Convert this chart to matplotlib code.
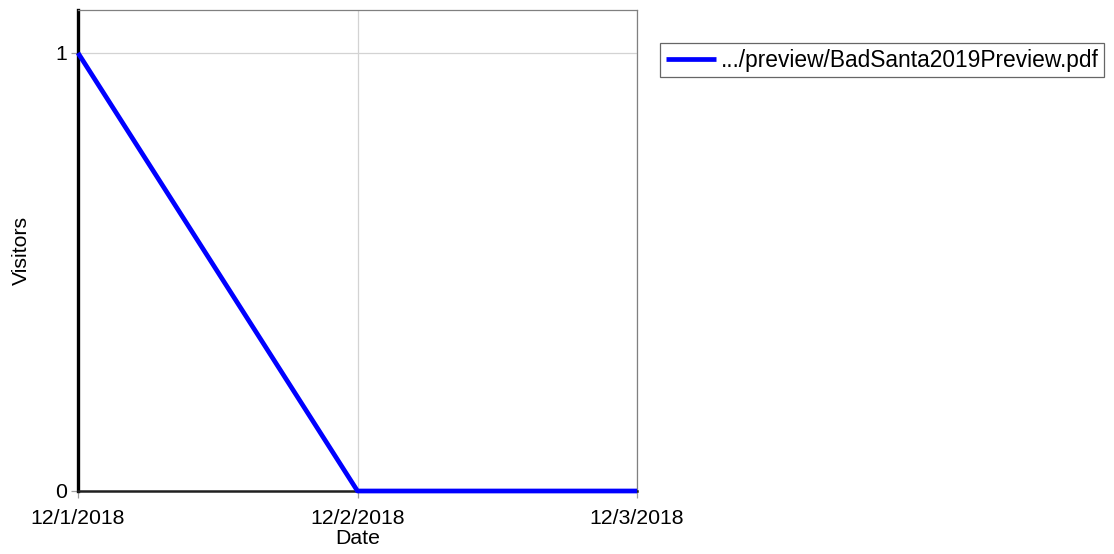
import matplotlib
matplotlib.use("Agg")
import matplotlib.pyplot as plt
import matplotlib.dates as mdates
import pandas as pd

plt.rcParams['font.family'] = ['Liberation Sans', 'DejaVu Sans']

# data
dates = ["2018-12-01", "2018-12-02", "2018-12-03"]
visitors = [1, 0, 0]
series_label = ".../preview/BadSanta2019Preview.pdf"
x_ticks = ["2018-12-01", "2018-12-02", "2018-12-03"]
y_ticks = [0, 1]

x = pd.to_datetime(dates)

fig = plt.figure(figsize=(11.14, 5.54), dpi=100)
ax = fig.add_axes([78 / 1114, 1 - 491 / 554, (637 - 78) / 1114, (491 - 10) / 554])

ax.plot(x, visitors, color='#0000ff', linewidth=3.4, label=series_label,
        solid_capstyle='butt', zorder=3, clip_on=False)

ax.set_xlim(pd.to_datetime(x_ticks[0]), pd.to_datetime(x_ticks[-1]))
ax.set_ylim(0, 1.098)
ax.set_xticks(pd.to_datetime(x_ticks))
ax.xaxis.set_major_formatter(
    plt.FuncFormatter(lambda v, p: "{d.month}/{d.day}/{d.year}".format(d=mdates.num2date(v))))
ax.set_yticks(y_ticks)

ax.grid(True, color='#d3d3d3', linewidth=0.9)
ax.set_axisbelow(True)

ax.tick_params(axis='both', direction='out', length=5, width=0.9, color='#a0a0a0',
               labelsize=15.3)
ax.tick_params(axis='x', pad=8)
ax.tick_params(axis='y', pad=3)

for side in ['top', 'right']:
    ax.spines[side].set_color('#808080')
    ax.spines[side].set_linewidth(0.9)
ax.spines['left'].set_color('black')
ax.spines['left'].set_linewidth(2.4)
ax.spines['bottom'].set_color('#202020')
ax.spines['bottom'].set_linewidth(1.8)

ax.set_xlabel("Date", fontsize=15.3, labelpad=0.5)
ax.set_ylabel("Visitors", fontsize=15.3, labelpad=17)

leg = fig.legend(loc='upper left', bbox_to_anchor=(660 / 1114, 1 - 43 / 554),
                 fontsize=16.4, frameon=True, fancybox=False, handlelength=2.2,
                 handletextpad=0.22, borderpad=0.25, borderaxespad=0)
leg.get_frame().set_edgecolor('#404040')
leg.get_frame().set_linewidth(0.9)

plt.savefig("out.png", dpi=100)
plt.close()
